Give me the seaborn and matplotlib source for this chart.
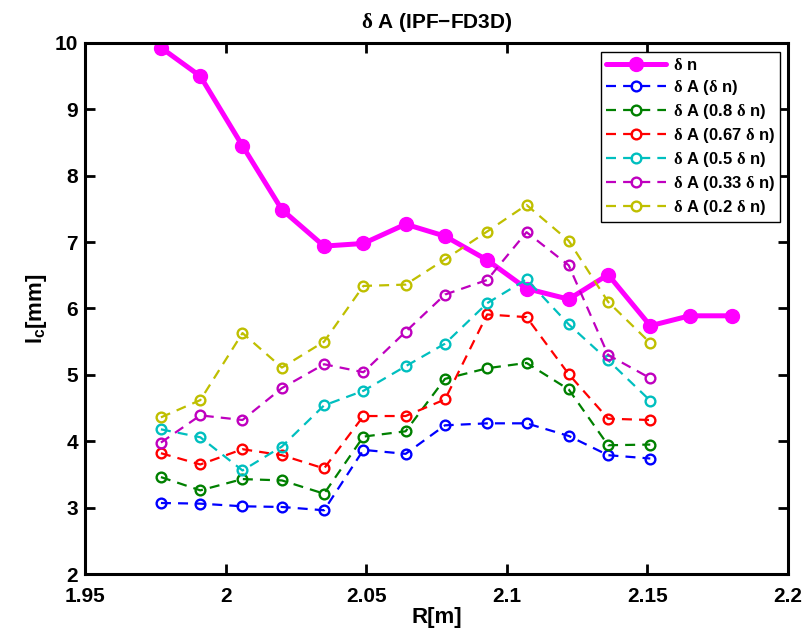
import numpy as np
import matplotlib
matplotlib.use('Agg')
import matplotlib.pyplot as plt
import seaborn as sns

# ---- data ----
r_m = [1.977, 1.991, 2.006, 2.020, 2.035, 2.049, 2.064, 2.078,
       2.093, 2.107, 2.122, 2.136, 2.151, 2.165, 2.180]

dn = [9.93, 9.50, 8.45, 7.49, 6.94, 6.98, 7.27, 7.09, 6.73, 6.30, 6.14, 6.51, 5.74, 5.89, 5.89]
dA_100 = [3.07, 3.06, 3.02, 3.01, 2.96, 3.87, 3.81, 4.24, 4.27, 4.27, 4.08, 3.79, 3.74]
dA_080 = [3.46, 3.26, 3.43, 3.41, 3.21, 4.07, 4.15, 4.94, 5.10, 5.18, 4.78, 3.94, 3.95]
dA_067 = [3.82, 3.65, 3.88, 3.79, 3.59, 4.38, 4.38, 4.63, 5.91, 5.87, 5.01, 4.34, 4.32]
dA_050 = [4.18, 4.06, 3.56, 3.92, 4.54, 4.76, 5.13, 5.47, 6.08, 6.44, 5.76, 5.22, 4.61]
dA_033 = [3.98, 4.39, 4.32, 4.80, 5.16, 5.04, 5.65, 6.21, 6.43, 7.15, 6.65, 5.30, 4.95]
dA_020 = [4.36, 4.62, 5.63, 5.11, 5.50, 6.34, 6.36, 6.74, 7.16, 7.56, 7.02, 6.10, 5.48]

series = [
    (dA_100, '#0000ff', r'$\delta$ A ($\delta$ n)'),
    (dA_080, '#008000', r'$\delta$ A (0.8 $\delta$ n)'),
    (dA_067, '#ff0000', r'$\delta$ A (0.67 $\delta$ n)'),
    (dA_050, '#00bfbf', r'$\delta$ A (0.5 $\delta$ n)'),
    (dA_033, '#bf00bf', r'$\delta$ A (0.33 $\delta$ n)'),
    (dA_020, '#bfbf00', r'$\delta$ A (0.2 $\delta$ n)'),
]

# ---- style ----
sns.set_style('ticks')
plt.rcParams['font.family'] = ['Liberation Sans', 'DejaVu Sans']
plt.rcParams['font.weight'] = 'bold'
plt.rcParams['mathtext.fontset'] = 'custom'
plt.rcParams['mathtext.it'] = 'Liberation Serif'
plt.rcParams['mathtext.rm'] = 'Liberation Sans:bold'
plt.rcParams['mathtext.bf'] = 'Liberation Sans:bold'
for key in ['text.color', 'axes.labelcolor', 'xtick.color', 'ytick.color', 'axes.edgecolor']:
    plt.rcParams[key] = 'black'

fig, ax = plt.subplots(figsize=(8.05, 6.37), dpi=100)
fig.subplots_adjust(left=0.1056, right=0.979, top=0.9325, bottom=0.0989)

sns.lineplot(x=r_m, y=dn, ax=ax, color='#ff00ff', linewidth=3.6,
             marker='o', markersize=10, markerfacecolor='#ff00ff',
             markeredgecolor='#ff00ff', markeredgewidth=1, label=r'$\delta$ n')

for vals, col, lab in series:
    sns.lineplot(x=r_m[:len(vals)], y=vals, ax=ax, color=col, linewidth=1.6,
                 dashes=False, linestyle=(0, (4.5, 3.2)), marker='o', markersize=7,
                 markerfacecolor='none', markeredgecolor=col,
                 markeredgewidth=1.7, label=lab)

ax.set_xlim(1.95, 2.2)
ax.set_ylim(2, 10)
ax.set_xticks([1.95, 2.0, 2.05, 2.1, 2.15, 2.2])
ax.set_xticklabels(['1.95', '2', '2.05', '2.1', '2.15', '2.2'])
ax.set_yticks(range(2, 11))

ax.tick_params(direction='in', length=7, width=2, top=True, right=True,
               labelsize=15)
ax.tick_params(axis='x', pad=9)
ax.tick_params(axis='y', pad=5)
for lbl in ax.get_xticklabels() + ax.get_yticklabels():
    lbl.set_fontweight('bold')
for sp in ax.spines.values():
    sp.set_visible(True)
    sp.set_linewidth(2.2)

ax.set_xlabel('R[m]', fontsize=16, fontweight='bold', labelpad=1)
ax.set_ylabel(r'l$_\mathbf{c}$[mm]', fontsize=16, fontweight='bold', labelpad=4)
ax.set_title(r'$\delta$ A (IPF−FD3D)', fontsize=15, fontweight='bold', pad=11)

leg = ax.legend(loc='upper right', bbox_to_anchor=(0.9886, 0.983), borderaxespad=0,
                fancybox=False, framealpha=1, edgecolor='black',
                prop={'size': 12, 'weight': 'bold'}, handlelength=3.6,
                labelspacing=0.3, borderpad=0.3, handletextpad=0.4)
leg.get_frame().set_linewidth(1.0)

fig.savefig('out.png', dpi=100)
